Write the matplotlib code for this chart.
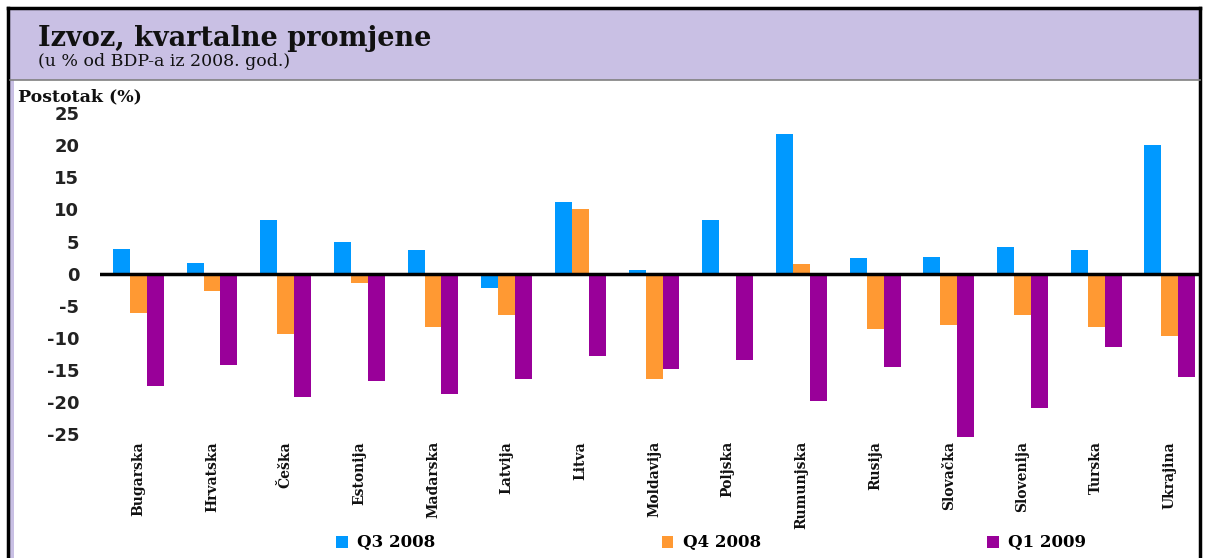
import matplotlib
matplotlib.use("Agg")
import matplotlib.pyplot as plt
import numpy as np
from matplotlib.patches import Rectangle, Patch
from matplotlib.lines import Line2D
from matplotlib.font_manager import FontProperties

countries = ["Bugarska", "Hrvatska", "Češka", "Estonija", "Mađarska", "Latvija", "Litva",
             "Moldavija", "Poljska", "Rumunjska", "Rusija", "Slovačka", "Slovenija",
             "Turska", "Ukrajina"]
q3_2008 = [3.8, 1.6, 8.3, 5.0, 3.6, -2.3, 11.1, 0.5, 8.3, 21.8, 2.4, 2.6, 4.2, 3.6, 20.0]
q4_2008 = [-6.2, -2.7, -9.4, -1.5, -8.4, -6.4, 10.1, -16.4, 0.0, 1.5, -8.6, -8.0, -6.4, -8.4, -9.8]
q1_2009 = [-17.5, -14.3, -19.3, -16.7, -18.7, -16.5, -12.9, -14.8, -13.4, -19.8, -14.6, -25.4,
           -20.9, -11.4, -16.1]
series_names = ["Q3 2008", "Q4 2008", "Q1 2009"]
colors = ["#0099FF", "#FF9933", "#990099"]
yticks = [-25, -20, -15, -10, -5, 0, 5, 10, 15, 20, 25]

W, H = 1206, 558
fig = plt.figure(figsize=(W / 100, H / 100), dpi=100)

def fx(px):
    return px / W

def fy(py):
    return 1 - py / H

# header band and frame
fig.patches.append(Rectangle((fx(10), fy(80)), fx(1190), fy(10) - fy(80),
                             transform=fig.transFigure, facecolor="#C9C0E4", edgecolor="none", zorder=0))
fig.patches.append(Rectangle((fx(10), 0), fx(4), fy(80),
                             transform=fig.transFigure, facecolor="#C9C0E4", edgecolor="none", zorder=0))
fig.add_artist(Line2D([fx(8), fx(1200)], [fy(8), fy(8)], color="black", lw=2.5, transform=fig.transFigure))
fig.add_artist(Line2D([fx(8), fx(8)], [0, fy(8)], color="black", lw=2.5, transform=fig.transFigure))
fig.add_artist(Line2D([fx(1200), fx(1200)], [0, fy(8)], color="black", lw=2.5, transform=fig.transFigure))
fig.add_artist(Line2D([fx(10), fx(1200)], [fy(80), fy(80)], color="#808080", lw=1.2, transform=fig.transFigure))

fig.text(fx(38), fy(38), "Izvoz, kvartalne promjene", family="DejaVu Serif", fontweight="bold",
         fontsize=19.5, va="center", ha="left", color="#111111")
fig.text(fx(38), fy(62), "(u % od BDP-a iz 2008. god.)", family="DejaVu Serif",
         fontsize=12.5, va="center", ha="left", color="#111111")
fig.text(fx(18), fy(97), "Postotak (%)", family="DejaVu Serif", fontweight="bold",
         fontsize=12.5, va="center", ha="left", color="#111111")

ax = fig.add_axes([fx(100), fy(441), fx(1100), fy(110) - fy(441)])
x = np.arange(len(countries))
w = 0.23
for i, (vals, c) in enumerate(zip([q3_2008, q4_2008, q1_2009], colors)):
    ax.bar(x + (i - 1) * w, vals, width=w, color=c, edgecolor="none", zorder=2)

ax.axhline(0, color="black", lw=2.5, zorder=3)
ax.set_xlim(-0.52, 14.41)
ax.set_ylim(-26.1, 25.5)
ax.set_yticks(yticks)
ax.set_yticklabels([str(t) for t in yticks], fontweight="bold", fontsize=13,
                   family="DejaVu Sans", color="#222222")
ax.set_xticks(x)
ax.set_xticklabels(countries, rotation=90, family="DejaVu Serif", fontweight="bold",
                   fontsize=10, va="top", ha="center", color="#111111")
ax.tick_params(axis="both", length=0)
ax.tick_params(axis="y", pad=15)
ax.tick_params(axis="x", pad=0)
for s in ax.spines.values():
    s.set_visible(False)

handles = [Patch(facecolor=c, edgecolor="none") for c in colors]
leg_font = FontProperties(family="DejaVu Serif", weight="bold", size=12)
fig.legend(handles, series_names, loc="center left", bbox_to_anchor=(fx(336), fy(543)),
           ncol=3, frameon=False, borderpad=0, borderaxespad=0, handlelength=0.7,
           handleheight=0.7, handletextpad=0.55, columnspacing=13.6, prop=leg_font)

fig.savefig("out.png", dpi=100)
